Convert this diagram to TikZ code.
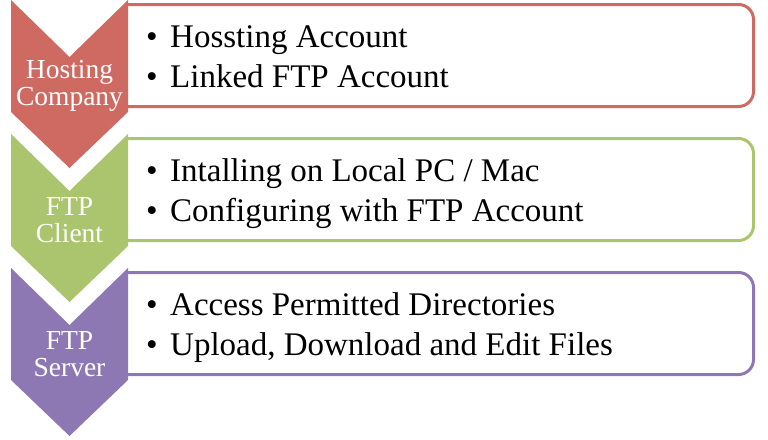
\documentclass[tikz,border=0pt]{standalone}
\usepackage{fontspec}
\setmainfont{Liberation Serif}
\definecolor{cred}{HTML}{CF6A63}
\definecolor{cgreen}{HTML}{AAC56E}
\definecolor{cpurple}{HTML}{8E78B4}
\newcommand\bul{\makebox[24pt][l]{•}}
\begin{document}
\begin{tikzpicture}[x=1pt,y=-1pt,
  box/.style={line width=3pt, rounded corners=15pt},
  lab/.style={text=white, align=center, font=\fontsize{27.5}{27}\selectfont, inner sep=0pt},
  items/.style={anchor=base west, inner sep=0pt, font=\fontsize{33}{40}\selectfont}]
\useasboundingbox (0,0) rectangle (768,439);
% boxes
\draw[box, draw=cred] (126,4.5) -- (753.5,4.5) -- (753.5,106.5) -- (126,106.5);
\draw[box, draw=cgreen] (126,138.5) -- (753.5,138.5) -- (753.5,240.5) -- (126,240.5);
\draw[box, draw=cpurple] (126,272.5) -- (753.5,272.5) -- (753.5,374.5) -- (126,374.5);
% chevrons
\fill[cred] (11,0) -- (69.5,57) -- (128,0) -- (128,112) -- (69.5,168) -- (11,112) -- cycle;
\fill[cgreen] (11,134) -- (69.5,191) -- (128,134) -- (128,246) -- (69.5,302) -- (11,246) -- cycle;
\fill[cpurple] (11,268) -- (69.5,325) -- (128,268) -- (128,380) -- (69.5,436) -- (11,380) -- cycle;
% labels
\node[lab] (l1) at (69.5,86) {Hosting\\Company};
\node[lab] (l2) at (69.5,220) {FTP\\Client};
\node[lab] (l3) at (69.5,354) {FTP\\Server};
% items
\node[items] (t1a) at (146,47) {\bul Hossting Account};
\node[items] (t1b) at (146,87) {\bul Linked FTP Account};
\node[items] (t2a) at (146,181) {\bul Intalling on Local PC / Mac};
\node[items] (t2b) at (146,221) {\bul Configuring with FTP Account};
\node[items] (t3a) at (146,315) {\bul Access Permitted Directories};
\node[items] (t3b) at (146,355) {\bul Upload, Download and Edit Files};
\end{tikzpicture}
\end{document}
